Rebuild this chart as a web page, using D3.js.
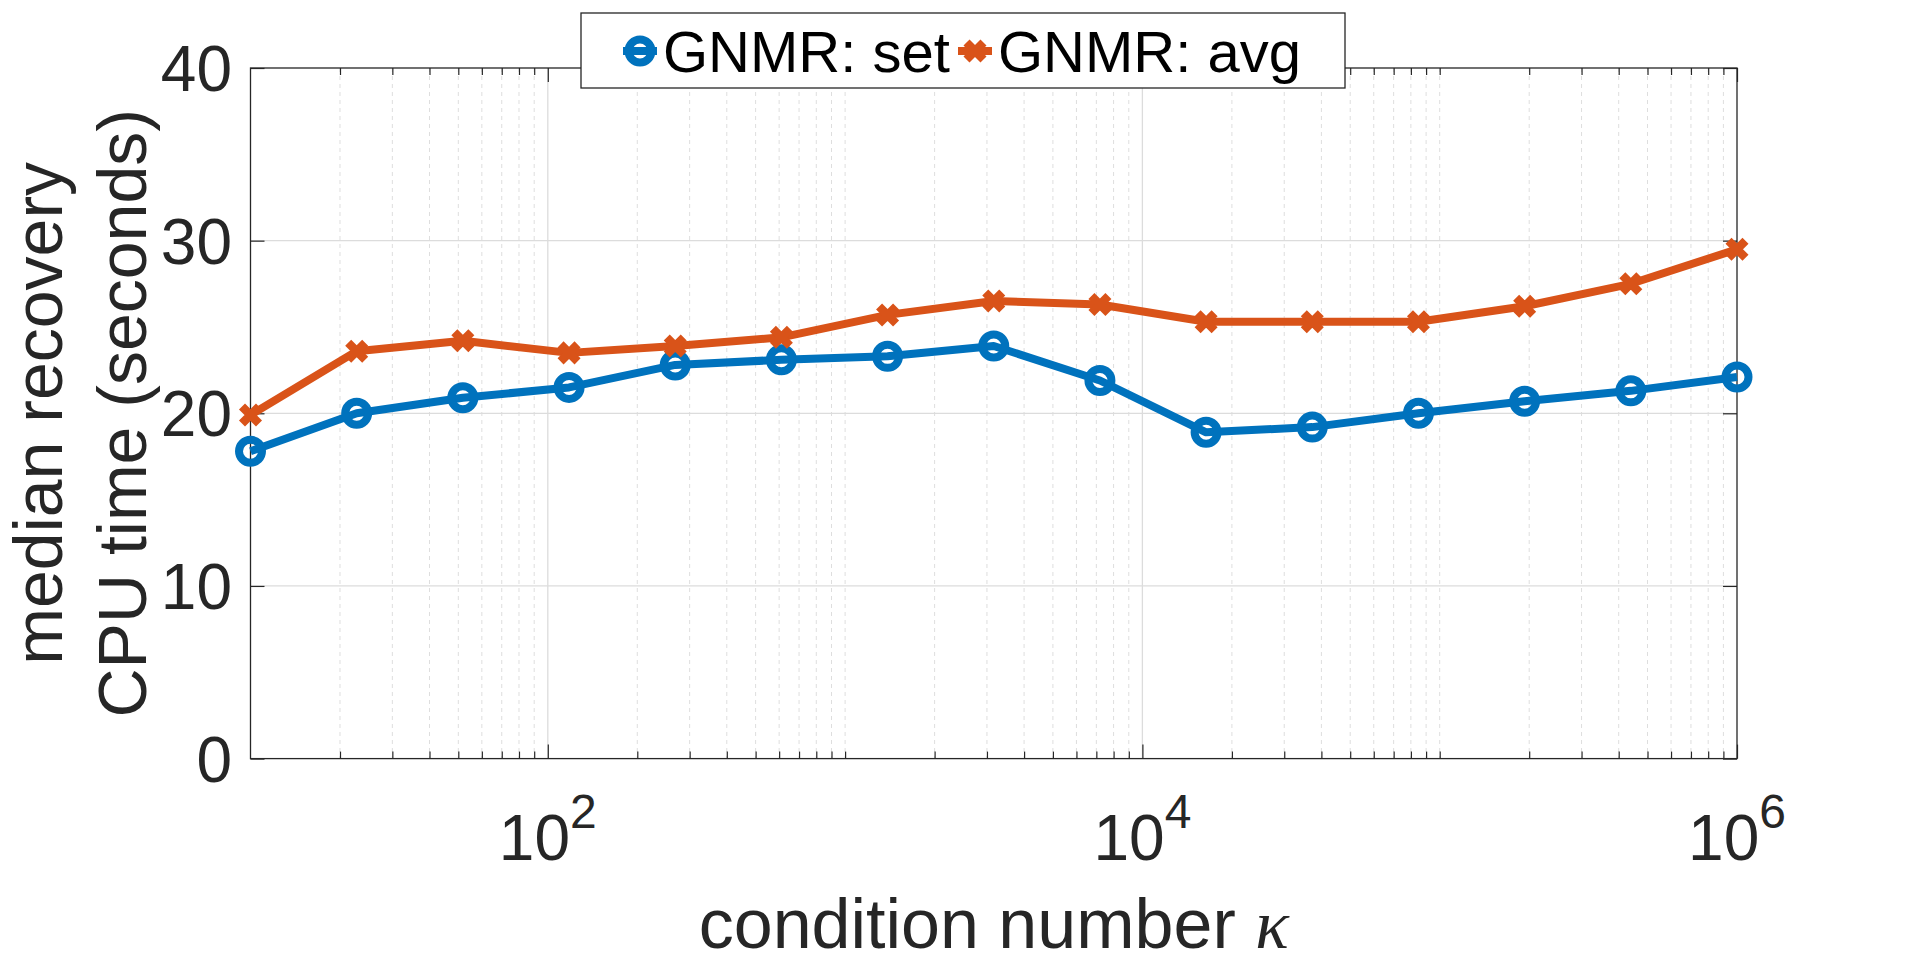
<!DOCTYPE html>
<html>
<head>
<meta charset="utf-8">
<script src="https://cdn.jsdelivr.net/npm/d3@7"></script>
<style>
    body { margin: 0; background: #fff; overflow: hidden; }
    text { font-family: "Liberation Sans", Arial, Helvetica, sans-serif; fill: #262626; }
</style>
</head>
<body>
<div id="chart-area"></div>
<script>

// condition numbers kappa (x axis, log scale)
let kappaValues = [10, 22.76, 51.79, 117.9, 268.3, 610.5, 1389.5, 3162.3, 7196.9, 16379, 37276, 84834, 193070, 439397, 1000000];

// median recovery CPU time in seconds
let setTimes = [17.8, 20.0, 20.9, 21.5, 22.8, 23.1, 23.3, 23.9, 21.9, 18.9, 19.2, 20.0, 20.7, 21.3, 22.1];
let avgTimes = [19.9, 23.6, 24.2, 23.5, 23.9, 24.4, 25.7, 26.5, 26.3, 25.3, 25.3, 25.3, 26.2, 27.5, 29.5];

let seriesNames = ["GNMR: set", "GNMR: avg"];
let seriesColors = ["#0072BD", "#D95319"];
let seriesMarkers = ["circle", "cross"];

let yTicks = [0, 10, 20, 30, 40];
let xTickExponents = [2, 4, 6];

let xLabel = "condition number ";
let xLabelSymbol = "κ";
let yLabelLines = ["median recovery", "CPU time (seconds)"];


class LineVis {

    constructor(parentElement) {
        this.parentElement = parentElement;
        this.initVis();
    }

    initVis() {
        let vis = this;

        vis.margin = {top: 68, right: 183, bottom: 204.4, left: 250.5};
        vis.width = 1920 - vis.margin.left - vis.margin.right;
        vis.height = 963 - vis.margin.top - vis.margin.bottom;

        vis.svg = d3.select("#" + vis.parentElement).append("svg")
            .attr("width", 1920)
            .attr("height", 963);

        vis.g = vis.svg.append("g")
            .attr("transform", `translate(${vis.margin.left}, ${vis.margin.top})`);

        vis.x = d3.scaleLog()
            .domain([10, 1e6])
            .range([0, vis.width]);

        vis.y = d3.scaleLinear()
            .domain([0, 40])
            .range([vis.height, 0]);

        // tick values for the log axis
        vis.majorTicks = xTickExponents.map(e => Math.pow(10, e));
        vis.minorTicks = [];
        for (let k = 1; k <= 5; k++) {
            for (let m = 1; m <= 9; m++) {
                let v = m * Math.pow(10, k);
                if (v > 10 && !vis.majorTicks.includes(v)) vis.minorTicks.push(v);
            }
        }

        vis.wrangleData();
    }

    wrangleData() {
        let vis = this;

        vis.displayData = seriesNames.map((name, i) => ({
            name: name,
            color: seriesColors[i],
            marker: seriesMarkers[i],
            values: kappaValues.map((k, j) => ({k: k, v: (i === 0 ? setTimes : avgTimes)[j]}))
        }));

        vis.updateVis();
    }

    drawMarker(sel, type, color) {
        if (type === "circle") {
            sel.append("circle")
                .attr("r", 11.5)
                .attr("fill", "none")
                .attr("stroke", color)
                .attr("stroke-width", 8);
        } else {
            sel.append("path")
                .attr("d", "M-8.5,-8.5L8.5,8.5M-8.5,8.5L8.5,-8.5")
                .attr("fill", "none")
                .attr("stroke", color)
                .attr("stroke-width", 8.5);
        }
    }

    updateVis() {
        let vis = this;

        // grid: minor x (dashed), major x and y (solid)
        vis.g.append("g").selectAll("line")
            .data(vis.minorTicks)
            .enter().append("line")
            .attr("x1", d => vis.x(d)).attr("x2", d => vis.x(d))
            .attr("y1", 0).attr("y2", vis.height)
            .attr("stroke", "#dedede")
            .attr("stroke-width", 1)
            .attr("stroke-dasharray", "4,4");

        vis.g.append("g").selectAll("line")
            .data(vis.majorTicks.slice(0, -1))
            .enter().append("line")
            .attr("x1", d => vis.x(d)).attr("x2", d => vis.x(d))
            .attr("y1", 0).attr("y2", vis.height)
            .attr("stroke", "#dcdcdc")
            .attr("stroke-width", 1.3);

        vis.g.append("g").selectAll("line")
            .data(yTicks.slice(1, -1))
            .enter().append("line")
            .attr("x1", 0).attr("x2", vis.width)
            .attr("y1", d => vis.y(d)).attr("y2", d => vis.y(d))
            .attr("stroke", "#dcdcdc")
            .attr("stroke-width", 1.3);

        // ticks (inside, on all four sides)
        let tickStyle = g => {
            g.select(".domain").remove();
            g.selectAll("text").remove();
            g.selectAll("line").attr("stroke", "#262626").attr("stroke-width", 1.2);
        };

        vis.g.append("g").attr("transform", `translate(0, ${vis.height})`)
            .call(d3.axisBottom(vis.x).tickValues(vis.minorTicks).tickSize(-7)).call(tickStyle);
        vis.g.append("g").attr("transform", `translate(0, ${vis.height})`)
            .call(d3.axisBottom(vis.x).tickValues(vis.majorTicks).tickSize(-14)).call(tickStyle);
        vis.g.append("g")
            .call(d3.axisTop(vis.x).tickValues(vis.minorTicks).tickSize(-7)).call(tickStyle);
        vis.g.append("g")
            .call(d3.axisTop(vis.x).tickValues(vis.majorTicks).tickSize(-14)).call(tickStyle);
        vis.g.append("g")
            .call(d3.axisLeft(vis.y).tickValues(yTicks).tickSize(-14)).call(tickStyle);
        vis.g.append("g").attr("transform", `translate(${vis.width}, 0)`)
            .call(d3.axisRight(vis.y).tickValues(yTicks).tickSize(-14)).call(tickStyle);

        // box
        vis.g.append("rect")
            .attr("width", vis.width)
            .attr("height", vis.height)
            .attr("fill", "none")
            .attr("stroke", "#262626")
            .attr("stroke-width", 1.3);

        // tick labels
        vis.g.append("g").selectAll("text")
            .data(yTicks)
            .enter().append("text")
            .attr("x", -18.5)
            .attr("y", d => vis.y(d) + 23)
            .attr("text-anchor", "end")
            .attr("font-size", 64)
            .text(d => d);

        let xt = vis.g.append("g").selectAll("text")
            .data(xTickExponents)
            .enter().append("text")
            .attr("x", d => vis.x(Math.pow(10, d)))
            .attr("y", vis.height + 101)
            .attr("text-anchor", "middle")
            .attr("font-size", 64);
        xt.append("tspan").text("10");
        xt.append("tspan").attr("font-size", 48).attr("dy", -32).text(d => d);

        // lines + markers
        let line = d3.line()
            .x(d => vis.x(d.k))
            .y(d => vis.y(d.v));

        vis.displayData.forEach(s => {
            vis.g.append("path")
                .datum(s.values)
                .attr("d", line)
                .attr("fill", "none")
                .attr("stroke", s.color)
                .attr("stroke-width", 8)
                .attr("stroke-linejoin", "round");

            let m = vis.g.append("g").selectAll("g")
                .data(s.values)
                .enter().append("g")
                .attr("transform", d => `translate(${vis.x(d.k)}, ${vis.y(d.v)})`);
            vis.drawMarker(m, s.marker, s.color);
        });

        // axis labels
        let xl = vis.svg.append("text")
            .attr("x", vis.margin.left + vis.width / 2)
            .attr("y", 948)
            .attr("text-anchor", "middle")
            .attr("font-size", 70);
        xl.append("tspan").text(xLabel);
        xl.append("tspan")
            .style("font-family", '"Liberation Serif", "DejaVu Serif", serif')
            .style("font-style", "italic")
            .text(xLabelSymbol);

        let yCenter = vis.margin.top + vis.height / 2;
        vis.svg.selectAll(".ylabel")
            .data(yLabelLines)
            .enter().append("text")
            .attr("class", "ylabel")
            .attr("transform", (d, i) => `translate(${62 + i * 84}, ${yCenter}) rotate(-90)`)
            .attr("text-anchor", "middle")
            .attr("font-size", 68)
            .text(d => d);

        // legend
        let legend = vis.svg.append("g").attr("class", "legend");
        legend.append("rect")
            .attr("x", 581).attr("y", 13)
            .attr("width", 764).attr("height", 75)
            .attr("fill", "#fff")
            .attr("stroke", "#262626")
            .attr("stroke-width", 1.3);

        let itemX = [623, 958];
        vis.displayData.forEach((s, i) => {
            let item = legend.append("g").attr("transform", `translate(${itemX[i]}, 51)`);
            item.append("line")
                .attr("x1", 0).attr("x2", 34)
                .attr("stroke", s.color)
                .attr("stroke-width", 8);
            let mk = item.append("g").attr("transform", "translate(17, 0)");
            vis.drawMarker(mk, s.marker, s.color);
            item.append("text")
                .attr("x", 40)
                .attr("y", 21)
                .attr("font-size", 58)
                .style("fill", "#000")
                .text(s.name);
        });
    }
}

let myLineVis = new LineVis("chart-area");

</script>
</body>
</html>
